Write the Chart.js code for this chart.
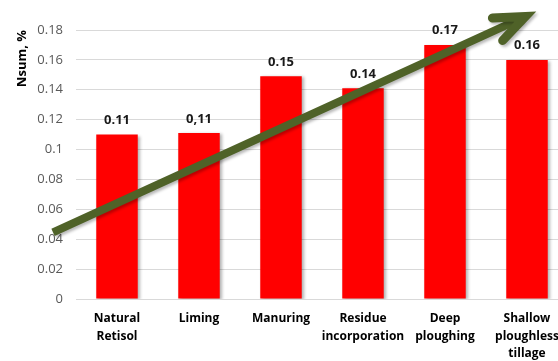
<!DOCTYPE html>
<html>
<head>
<meta charset="utf-8">
<title>Nsum by treatment</title>
<script src="https://cdn.jsdelivr.net/npm/chart.js@4"></script>
<style>
  html, body { margin: 0; padding: 0; background: #fff; overflow: hidden; }
  #wrap { width: 572px; height: 361px; }
</style>
</head>
<body>
<div id="wrap"><canvas id="nsum-chart" width="572" height="361"></canvas></div>
<script>
// --- Data ---
const treatments = [
    ['Natural', 'Retisol'],
    'Liming',
    'Manuring',
    ['Residue', 'incorporation'],
    ['Deep', 'ploughing'],
    ['Shallow', 'ploughless', 'tillage']
];
const nsumValues = [0.11, 0.111, 0.149, 0.141, 0.17, 0.16];
const valueLabels = ['0.11', '0,11', '0.15', '0.14', '0.17', '0.16'];
const yTickLabels = ['0', '0.02', '0.04', '0.06', '0.08', '0.1', '0.12', '0.14', '0.16', '0.18'];

// Trend arrow ends, in (category index, Nsum) units
const trendFrom = [-0.78, 0.0446];
const trendTo = [4.98, 0.189];

const FONT = "'Open Sans', 'Liberation Sans', sans-serif";
const ARROW_GREEN = '#4f6228';

// --- Plugins ---
// soft drop shadow under the bars
const barShadow = {
    id: 'barShadow',
    beforeDatasetDraw(chart) {
        const ctx = chart.ctx;
        ctx.save();
        ctx.shadowColor = 'rgba(0, 0, 0, 0.3)';
        ctx.shadowBlur = 3;
        ctx.shadowOffsetX = 2;
        ctx.shadowOffsetY = 1;
    },
    afterDatasetDraw(chart) {
        chart.ctx.restore();
    }
};

const barValueLabels = {
    id: 'barValueLabels',
    afterDatasetsDraw(chart) {
        const ctx = chart.ctx;
        const bars = chart.getDatasetMeta(0).data;
        ctx.save();
        ctx.font = `bold 13px ${FONT}`;
        ctx.fillStyle = '#1a1a1a';
        ctx.textAlign = 'center';
        ctx.textBaseline = 'alphabetic';
        bars.forEach((bar, i) => {
            ctx.fillText(valueLabels[i], bar.x, bar.y - 10.5);
        });
        ctx.restore();
    }
};

const trendArrow = {
    id: 'trendArrow',
    afterDraw(chart) {
        const { ctx, scales: { x, y } } = chart;
        const x0 = x.getPixelForValue(trendFrom[0]);
        const y0 = y.getPixelForValue(trendFrom[1]);
        const x1 = x.getPixelForValue(trendTo[0]);
        const y1 = y.getPixelForValue(trendTo[1]);
        const ang = Math.atan2(y1 - y0, x1 - x0);
        const armLen = 33;
        const spread = 22 * Math.PI / 180;

        ctx.save();
        ctx.strokeStyle = ARROW_GREEN;
        ctx.shadowColor = 'rgba(0, 0, 0, 0.28)';
        ctx.shadowBlur = 3;
        ctx.shadowOffsetX = 2;
        ctx.shadowOffsetY = 2;

        // shaft
        ctx.lineWidth = 8;
        ctx.lineCap = 'butt';
        ctx.beginPath();
        ctx.moveTo(x0, y0);
        ctx.lineTo(x1 - Math.cos(ang) * 4, y1 - Math.sin(ang) * 4);
        ctx.stroke();

        // open head
        ctx.lineWidth = 9;
        ctx.lineCap = 'round';
        ctx.lineJoin = 'miter';
        ctx.miterLimit = 10;
        ctx.beginPath();
        ctx.moveTo(x1 - Math.cos(ang - spread) * armLen, y1 - Math.sin(ang - spread) * armLen);
        ctx.lineTo(x1, y1);
        ctx.lineTo(x1 - Math.cos(ang + spread) * armLen, y1 - Math.sin(ang + spread) * armLen);
        ctx.stroke();
        ctx.restore();
    }
};

// --- Chart ---
new Chart(document.getElementById('nsum-chart'), {
    type: 'bar',
    data: {
        labels: treatments,
        datasets: [{
            data: nsumValues,
            backgroundColor: '#ff0000',
            borderWidth: 0,
            barPercentage: 0.506,
            categoryPercentage: 1
        }]
    },
    options: {
        responsive: false,
        animation: false,
        layout: { padding: { top: 30, right: 4, bottom: 0, left: 0 } },
        plugins: {
            legend: { display: false },
            tooltip: { enabled: false }
        },
        scales: {
            x: {
                grid: { display: false },
                border: { display: false },
                ticks: {
                    color: '#000',
                    padding: 3,
                    maxRotation: 0,
                    autoSkip: false,
                    font: { family: FONT, size: 12, weight: 'bold', lineHeight: 1.45 }
                },
                afterFit(scale) { scale.height = 62; }
            },
            y: {
                min: 0,
                max: 0.18,
                border: { display: false },
                grid: { color: '#d9d9d9', lineWidth: 1, drawTicks: false },
                ticks: {
                    stepSize: 0.02,
                    padding: 13,
                    color: '#595959',
                    font: { family: FONT, size: 13 },
                    callback: (v, i) => yTickLabels[i] ?? String(+v.toFixed(2))
                },
                title: {
                    display: true,
                    text: 'Nsum, %',
                    align: 'end',
                    color: '#000',
                    font: { family: FONT, size: 13, weight: 'bold' },
                    padding: { top: 14, bottom: 0 }
                },
                afterFit(scale) { scale.width = 76; }
            }
        }
    },
    plugins: [barShadow, barValueLabels, trendArrow]
});
</script>
</body>
</html>
